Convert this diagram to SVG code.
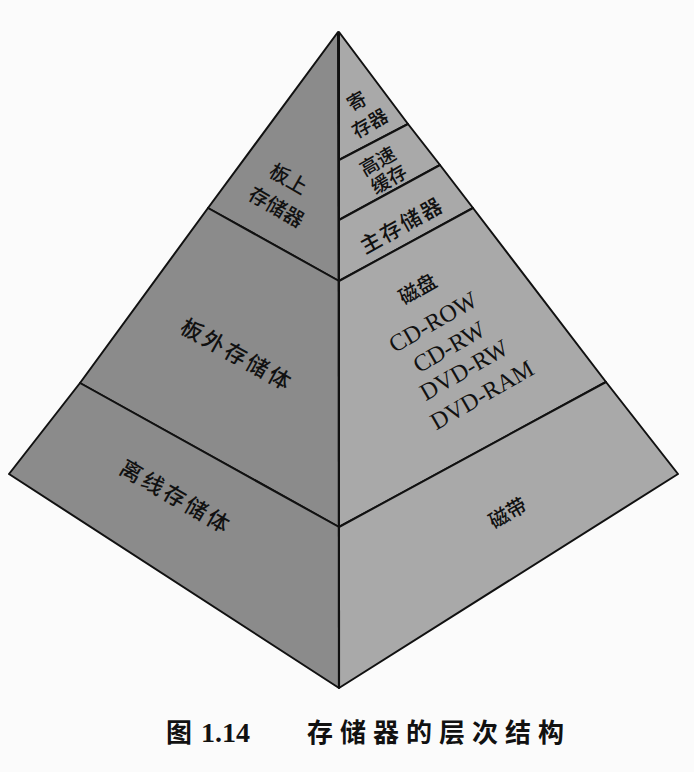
<svg xmlns="http://www.w3.org/2000/svg" width="694" height="772" viewBox="0 0 694 772">
  <style>
    .face { stroke: #111; stroke-width: 2; stroke-linejoin: round; }
    .left { fill: #8b8b8b; }
    .right { fill: #a9a9a9; }
    .zh { font-family: "Noto Sans CJK SC", "Noto Sans", sans-serif; font-weight: 500; fill: #111; text-anchor: middle; dominant-baseline: central; }
    .en { font-family: "Liberation Serif", "Times New Roman", serif; fill: #111; text-anchor: middle; dominant-baseline: central; }
    .cap { font-family: "Noto Sans CJK SC", sans-serif; font-weight: bold; fill: #111; font-size: 26px; }
    .capnum { font-family: "Liberation Serif", "Times New Roman", serif; font-weight: bold; fill: #111; font-size: 28px; }
  </style>
  <rect width="694" height="772" fill="#fbfbfb"/>

  <g id="left-top">
    <polygon class="face left" points="338,32 208,208 339,281"/>
    <text class="zh" font-size="20" transform="translate(289,178) rotate(30)">板上</text>
    <text class="zh" font-size="20" transform="translate(277,206) rotate(30)">存储器</text>
  </g>
  <g id="left-mid">
    <polygon class="face left" points="208,208 80,383 339,527 339,281"/>
    <text class="zh" font-size="22" letter-spacing="3" transform="translate(238,353) rotate(29)">板外存储体</text>
  </g>
  <g id="left-bottom">
    <polygon class="face left" points="80,383 9,474 339,688 339,527"/>
    <text class="zh" font-size="22" letter-spacing="3" transform="translate(177,495) rotate(30)">离线存储体</text>
  </g>

  <g id="right-register">
    <polygon class="face right" points="339,32 408,124 339,160"/>
    <text class="zh" font-size="19" transform="translate(356,100) rotate(-30)">寄</text>
    <text class="zh" font-size="19" transform="translate(369,122) rotate(-30)">存器</text>
  </g>
  <g id="right-cache">
    <polygon class="face right" points="339,160 408,124 440,165 339,220"/>
    <text class="zh" font-size="19" transform="translate(377,160) rotate(-30)">高速</text>
    <text class="zh" font-size="19" transform="translate(388,178) rotate(-30)">缓存</text>
  </g>
  <g id="right-main">
    <polygon class="face right" points="339,220 440,165 473,208 339,281"/>
    <text class="zh" font-size="21" letter-spacing="2" transform="translate(401,224) rotate(-29)">主存储器</text>
  </g>
  <g id="right-disk">
    <polygon class="face right" points="339,281 473,208 606,382 339,527"/>
    <text class="zh" font-size="20" transform="translate(417,288) rotate(-30)">磁盘</text>
    <text class="en" font-size="24" transform="translate(433,322) rotate(-30)">CD-ROW</text>
    <text class="en" font-size="24" transform="translate(449,347) rotate(-30)">CD-RW</text>
    <text class="en" font-size="24" transform="translate(464,370) rotate(-30)">DVD-RW</text>
    <text class="en" font-size="24" transform="translate(482,395) rotate(-30)">DVD-RAM</text>
  </g>
  <g id="right-tape">
    <polygon class="face right" points="339,527 606,382 678,474 339,688"/>
    <text class="zh" font-size="20" transform="translate(507,512) rotate(-30)">磁带</text>
  </g>

  <g id="connectors">
    <line x1="338.5" y1="32" x2="339" y2="688" stroke="#111" stroke-width="2.2"/>
  </g>

  <g id="caption">
    <text class="cap" x="166" y="742">图</text>
    <text class="capnum" x="201" y="742">1.14</text>
    <text class="cap" x="307" y="742" letter-spacing="7">存储器的层次结构</text>
  </g>
</svg>
